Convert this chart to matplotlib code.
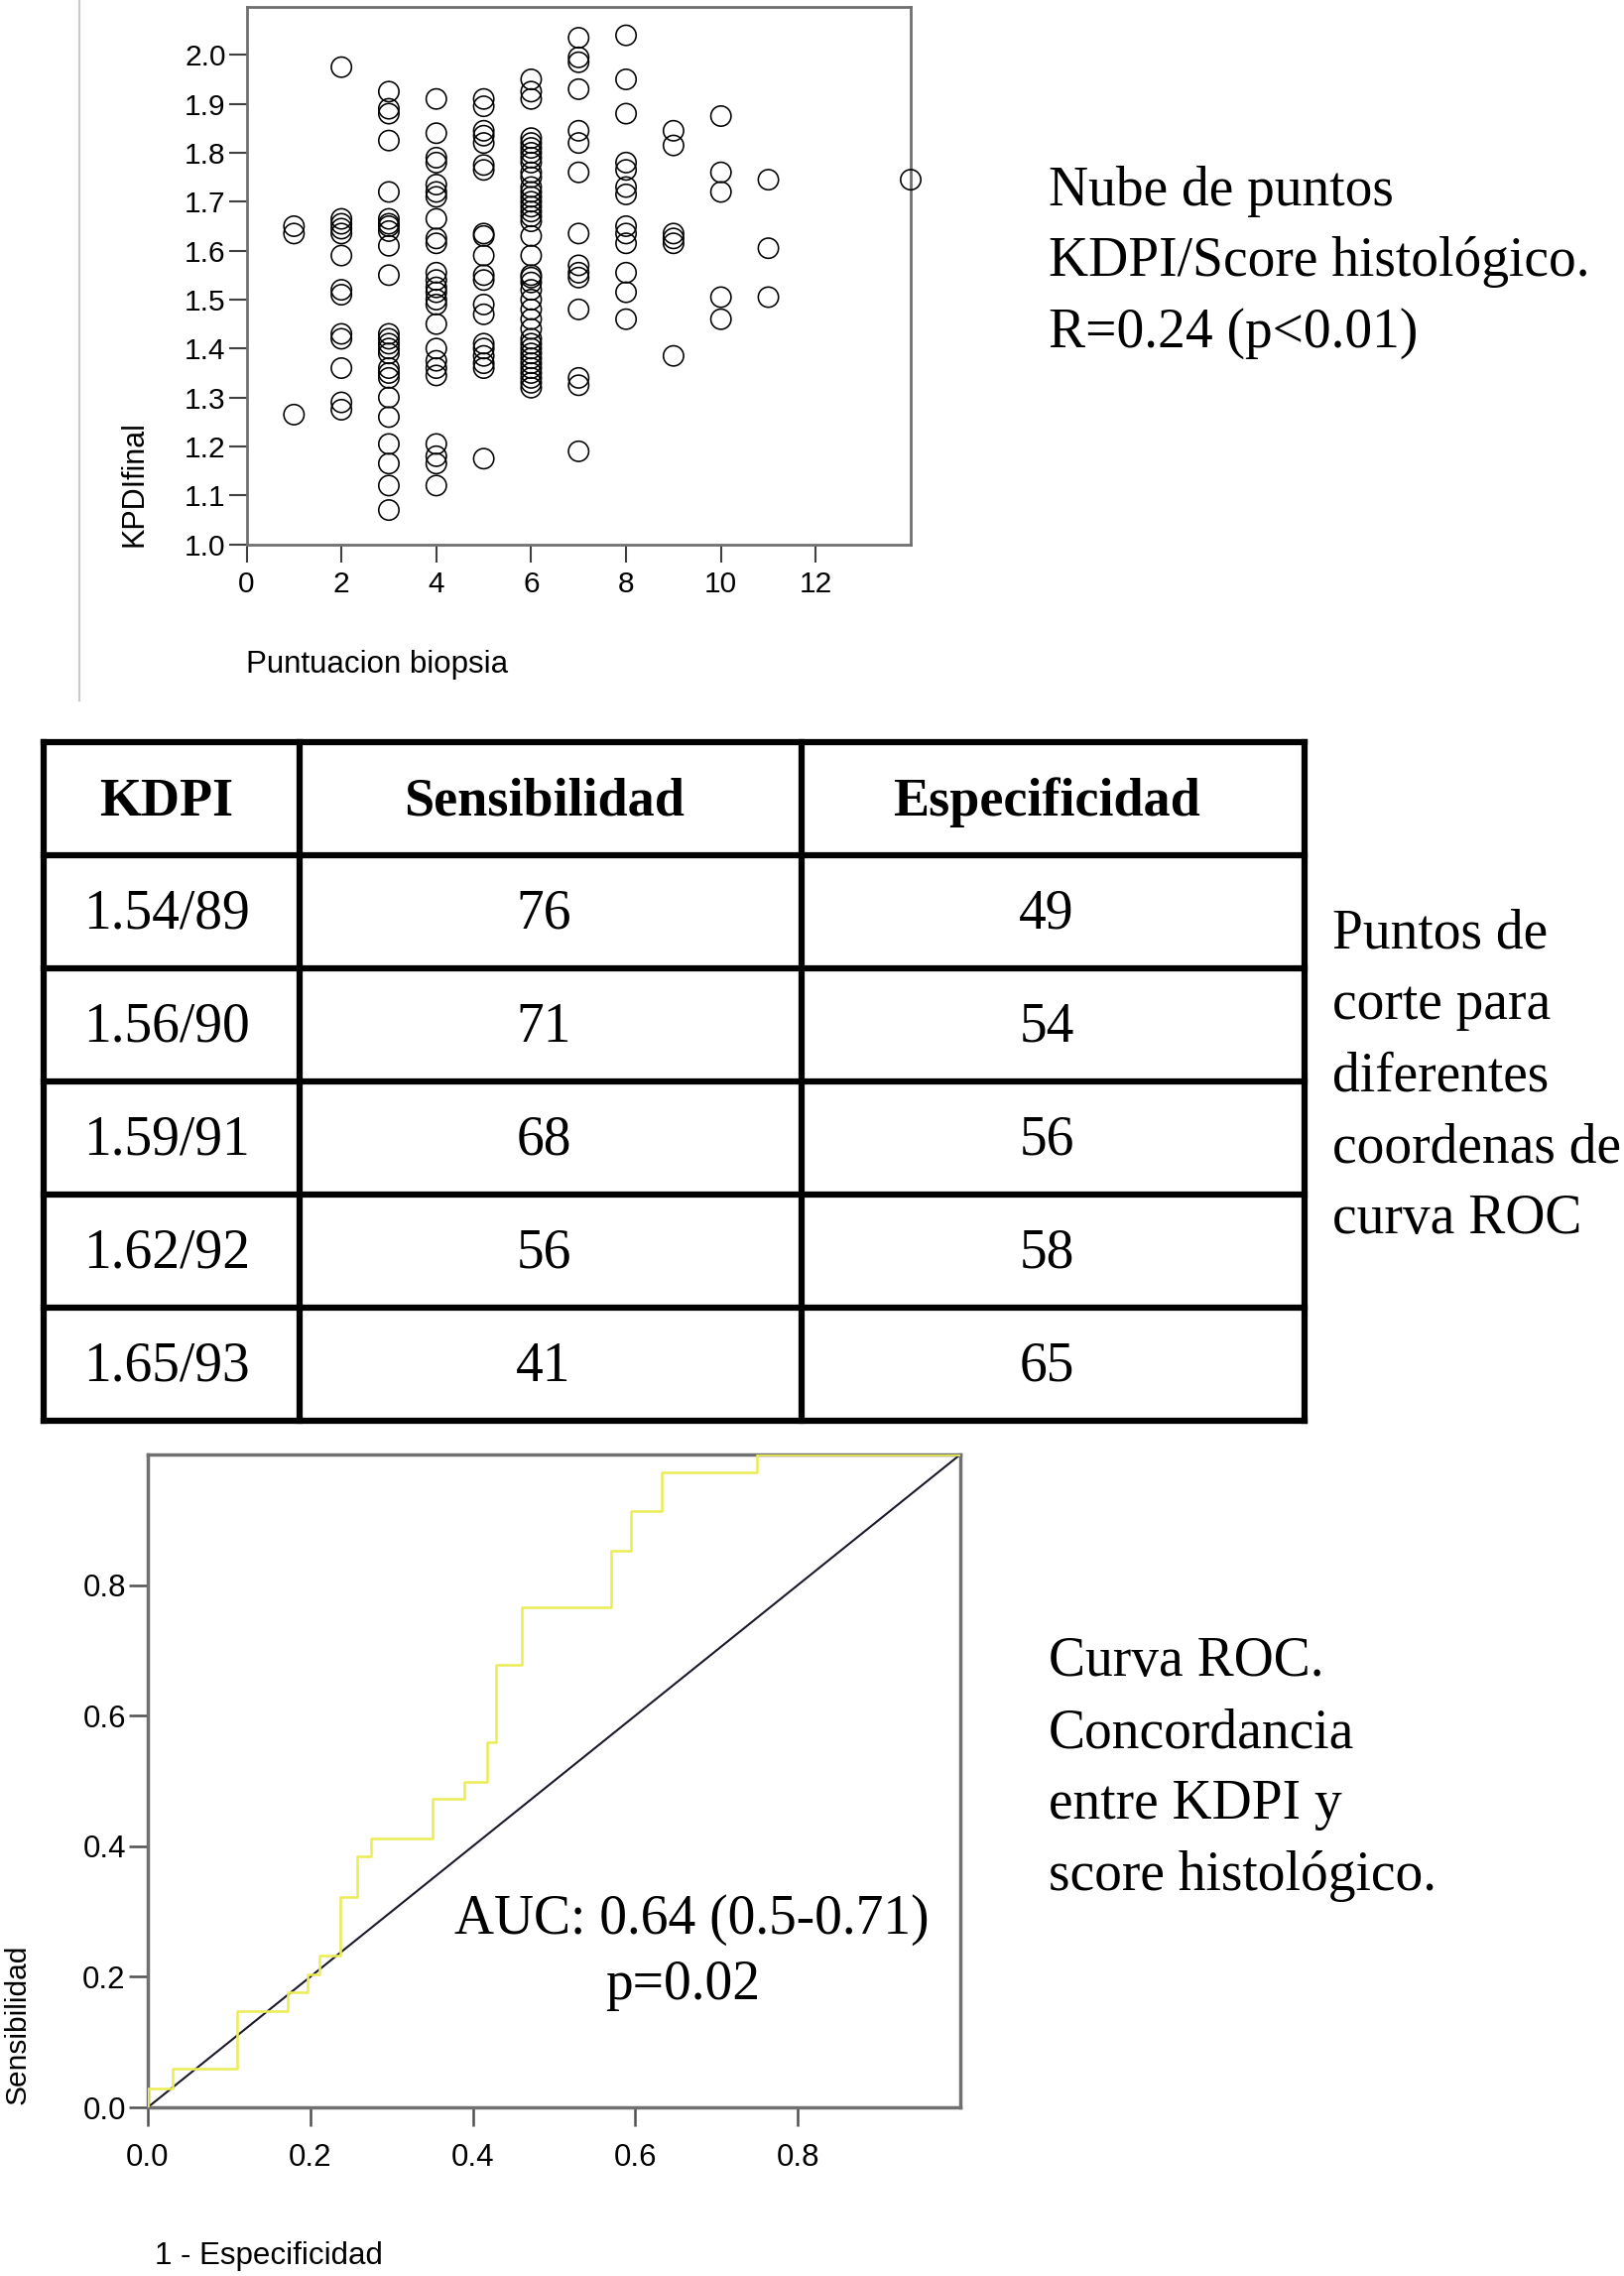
import numpy as np
import matplotlib
matplotlib.use('Agg')
import matplotlib.pyplot as plt
from matplotlib.lines import Line2D

W, H = 1637, 2294
SANS = 'Liberation Sans'
SERIF = 'Liberation Serif'
GRAY = '#707070'

# nube de puntos: puntuacion biopsia -> KDPI final
scores = [1, 2, 3, 4, 5, 6, 7, 8, 9, 10, 11, 14]
kdpi_values = [
    [1.65, 1.635, 1.265],
    [1.975, 1.665, 1.655, 1.645, 1.635, 1.59, 1.52, 1.51, 1.43, 1.42, 1.36, 1.29, 1.275],
    [1.925, 1.89, 1.88, 1.825, 1.72, 1.665, 1.655, 1.65, 1.64, 1.61, 1.55, 1.43, 1.42, 1.41,
     1.40, 1.39, 1.36, 1.35, 1.34, 1.30, 1.26, 1.205, 1.165, 1.12, 1.07],
    [1.91, 1.84, 1.79, 1.78, 1.735, 1.72, 1.71, 1.665, 1.625, 1.615, 1.555, 1.54, 1.525,
     1.515, 1.50, 1.49, 1.45, 1.40, 1.375, 1.36, 1.345, 1.205, 1.18, 1.165, 1.12],
    [1.91, 1.895, 1.845, 1.835, 1.82, 1.775, 1.765, 1.635, 1.63, 1.59, 1.55, 1.54, 1.49,
     1.47, 1.41, 1.40, 1.385, 1.37, 1.36, 1.175],
    [1.95, 1.925, 1.91, 1.83, 1.82, 1.81, 1.80, 1.79, 1.78, 1.76, 1.75, 1.73, 1.72, 1.71,
     1.70, 1.69, 1.68, 1.67, 1.66, 1.63, 1.59, 1.55, 1.545, 1.535, 1.52, 1.50, 1.48, 1.46,
     1.44, 1.42, 1.41, 1.40, 1.39, 1.38, 1.37, 1.36, 1.35, 1.34, 1.33, 1.32],
    [2.035, 1.995, 1.985, 1.93, 1.845, 1.82, 1.76, 1.635, 1.57, 1.555, 1.545, 1.48, 1.34,
     1.325, 1.19],
    [2.04, 1.95, 1.88, 1.78, 1.765, 1.73, 1.715, 1.65, 1.635, 1.615, 1.555, 1.515, 1.46],
    [1.845, 1.815, 1.635, 1.625, 1.615, 1.385],
    [1.875, 1.76, 1.72, 1.505, 1.46],
    [1.745, 1.605, 1.505],
    [1.745],
]

# tabla de puntos de corte
cut_kdpi = ['1.54/89', '1.56/90', '1.59/91', '1.62/92', '1.65/93']
cut_sens = [76, 71, 68, 56, 41]
cut_spec = [49, 54, 56, 58, 65]
table_header = ['KDPI', 'Sensibilidad', 'Especificidad']

# curva ROC (escalones)
roc_fpr = [0, 0.03, 0.11, 0.172, 0.197, 0.211, 0.237, 0.258, 0.275, 0.350, 0.390, 0.417,
           0.429, 0.460, 0.570, 0.595, 0.632, 0.750, 1.0]
roc_tpr = [0, 0.029, 0.059, 0.147, 0.176, 0.204, 0.233, 0.322, 0.384, 0.412, 0.473, 0.498,
           0.559, 0.678, 0.766, 0.853, 0.914, 0.973, 1.0]


def box(l, t, r, b):
    return [l / W, 1 - b / H, (r - l) / W, (b - t) / H]


fig = plt.figure(figsize=(W / 100, H / 100), dpi=100)

# capa en pixeles para textos y tabla (encima de todo, sin fondo)
ov = fig.add_axes([0, 0, 1, 1])
ov.set_xlim(0, W)
ov.set_ylim(H, 0)
ov.axis('off')
ov.set_zorder(10)
ov.add_line(Line2D([80, 80], [0, 706], color='#c8c8c8', lw=1.5))

# ---- scatter ----
ax = fig.add_axes(box(248.5, 7, 918, 548.6))
for s, vals in zip(scores, kdpi_values):
    ax.scatter([s] * len(vals), vals, s=215, facecolors='none', edgecolors='black',
               linewidths=1.15, clip_on=False, zorder=3)
ax.set_xlim(0, 14)
ax.set_ylim(1.0, 2.098)
ax.set_xticks(range(0, 13, 2))
ax.set_yticks(np.arange(1.0, 2.01, 0.1))
ax.set_yticklabels(['%.1f' % v for v in np.arange(1.0, 2.01, 0.1)])
for sp in ax.spines.values():
    sp.set_color(GRAY)
    sp.set_linewidth(2)
ax.tick_params(direction='out', length=13, width=1.5, color='#404040', labelsize=21.5,
               pad=2)
ax.tick_params(axis='x', pad=6)
for lb in ax.get_xticklabels() + ax.get_yticklabels():
    lb.set_family(SANS)
ov.text(136, 488, 'KPDIfinal', rotation=90, ha='center', va='center', fontsize=22,
        family=SANS)
ov.text(248, 670, 'Puntuacion biopsia', ha='left', va='center', fontsize=22.5, family=SANS)

for i, t in enumerate(['Nube de puntos', 'KDPI/Score histológico.', 'R=0.24 (p<0.01)']):
    ov.text(1057, 187 + i * 71.5, t, ha='left', va='center_baseline', fontsize=40,
            family=SERIF)

# ---- tabla ----
col_edges = [44, 302, 808, 1315]
row_edges = [748, 862, 976, 1090, 1204, 1318, 1432]
for x in col_edges:
    ov.plot([x, x], [row_edges[0], row_edges[-1]], color='black', lw=4.5,
            solid_capstyle='projecting')
for y in row_edges:
    ov.plot([col_edges[0], col_edges[-1]], [y, y], color='black', lw=4.5,
            solid_capstyle='projecting')
col_cx = [168, 548, 1055]
for j, t in enumerate(table_header):
    ov.text(col_cx[j], 803, t, ha='center', va='center_baseline', fontsize=39,
            family=SERIF, fontweight='bold')
for i in range(len(cut_kdpi)):
    cy = (row_edges[i + 1] + row_edges[i + 2]) / 2 - 3
    row = [cut_kdpi[i], str(cut_sens[i]), str(cut_spec[i])]
    for j, t in enumerate(row):
        ov.text(col_cx[j], cy, t, ha='center', va='center_baseline', fontsize=40,
                family=SERIF)
for i, t in enumerate(['Puntos de', 'corte para', 'diferentes', 'coordenas de',
                       'curva ROC']):
    ov.text(1343, 935 + i * 72, t, ha='left', va='center_baseline', fontsize=40,
            family=SERIF)

# ---- ROC ----
ax2 = fig.add_axes(box(149, 1466, 968, 2124))
ax2.plot([0, 1], [0, 1], color='#1a1a2a', lw=1.5, zorder=2)
ax2.step(roc_fpr, roc_tpr, where='pre', color='#ecec55', lw=1.8, zorder=3)
ax2.set_xlim(0, 1)
ax2.set_ylim(0, 1)
ax2.set_xticks([0, 0.2, 0.4, 0.6, 0.8])
ax2.set_yticks([0, 0.2, 0.4, 0.6, 0.8])
ax2.set_xticklabels(['0.0', '0.2', '0.4', '0.6', '0.8'])
ax2.set_yticklabels(['0.0', '0.2', '0.4', '0.6', '0.8'])
for sp in ax2.spines.values():
    sp.set_color(GRAY)
    sp.set_linewidth(2.5)
ax2.tick_params(direction='out', length=14, width=1.8, color='#505050', labelsize=22.5,
                pad=2)
ax2.tick_params(axis='x', pad=12)
for lb in ax2.get_xticklabels() + ax2.get_yticklabels():
    lb.set_family(SANS)
ov.text(697, 1929, 'AUC: 0.64 (0.5-0.71)', ha='center', va='center_baseline',
        fontsize=40, family=SERIF)
ov.text(688, 1995, 'p=0.02', ha='center', va='center_baseline', fontsize=40, family=SERIF)
ov.text(18, 2040, 'Sensibilidad', rotation=90, ha='center', va='center', fontsize=21.5,
        family=SANS)
ov.text(156, 2274, '1 - Especificidad', ha='left', va='center', fontsize=22.5, family=SANS)

for i, t in enumerate(['Curva ROC.', 'Concordancia', 'entre KDPI y',
                       'score histológico.']):
    ov.text(1057, 1669 + i * 72, t, ha='left', va='center_baseline', fontsize=40,
            family=SERIF)

fig.savefig('out.png', dpi=100)
